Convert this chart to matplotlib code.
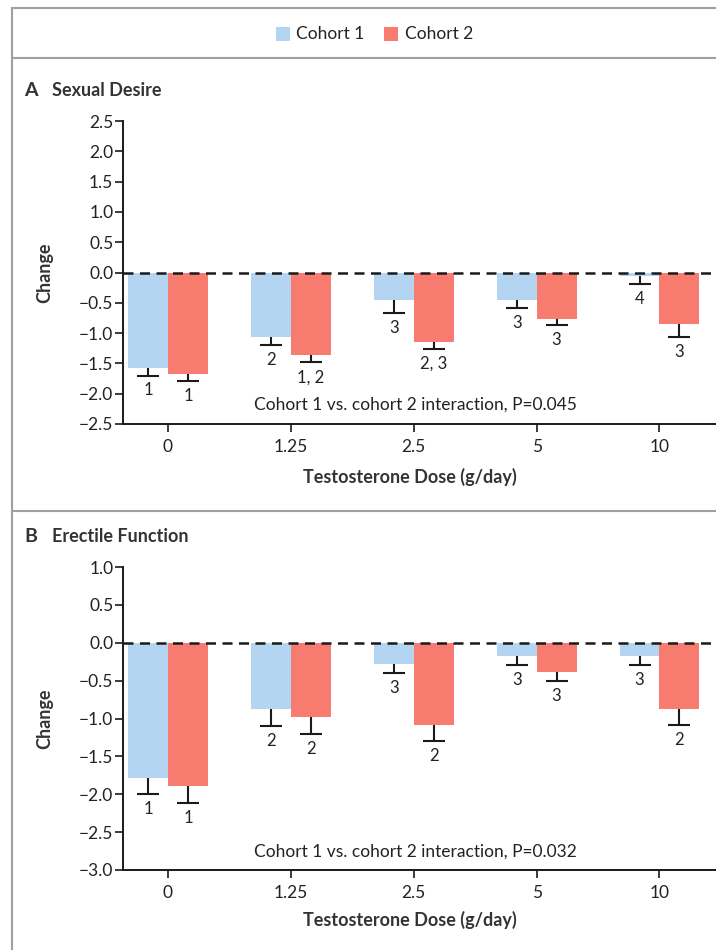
import matplotlib
matplotlib.use("Agg")
import matplotlib.pyplot as plt
from matplotlib.patches import Rectangle
from matplotlib.lines import Line2D
import numpy as np

plt.rcParams['font.family'] = ['Lato', 'DejaVu Sans']

# ---------------- data ----------------
doses = ["0", "1.25", "2.5", "5", "10"]
cohorts = ["Cohort 1", "Cohort 2"]

# Panel A: Sexual Desire
desire_c1 = [-1.57, -1.07, -0.45, -0.46, -0.06]
desire_c1_err = [0.13, 0.12, 0.22, 0.12, 0.13]
desire_c2 = [-1.67, -1.36, -1.15, -0.76, -0.85]
desire_c2_err = [0.12, 0.12, 0.11, 0.11, 0.22]
desire_c1_lbl = ["1", "2", "3", "3", "4"]
desire_c2_lbl = ["1", "1, 2", "2, 3", "3", "3"]
desire_p = "Cohort 1 vs. cohort 2 interaction, P=0.045"

# Panel B: Erectile Function
erectile_c1 = [-1.79, -0.88, -0.28, -0.18, -0.18]
erectile_c1_err = [0.21, 0.22, 0.12, 0.11, 0.11]
erectile_c2 = [-1.89, -0.98, -1.08, -0.39, -0.88]
erectile_c2_err = [0.22, 0.22, 0.22, 0.11, 0.21]
erectile_c1_lbl = ["1", "2", "3", "3", "3"]
erectile_c2_lbl = ["1", "2", "2", "3", "2"]
erectile_p = "Cohort 1 vs. cohort 2 interaction, P=0.032"

xlabel = "Testosterone Dose (g/day)"
ylabel = "Change"

C1 = "#B3D5F1"
C2 = "#F87B70"
FRAME = "#a0a0a0"
INK = "#1a1a1a"

W, H = 716, 950
fig = plt.figure(figsize=(W / 100, H / 100), dpi=100)


def fx(px):
    return px / W


def fy(py):
    return 1 - py / H


# outer frame and separators
fig.add_artist(Rectangle((fx(12), fy(965)), fx(740), fy(8) - fy(965),
                         transform=fig.transFigure, fill=False,
                         edgecolor=FRAME, lw=1.5))
for yy in (58, 511):
    fig.add_artist(Line2D([fx(12), 1.05], [fy(yy), fy(yy)],
                          transform=fig.transFigure, color=FRAME, lw=1.5))

# legend
fig.add_artist(Rectangle((fx(276), fy(41)), fx(14), fy(27) - fy(41),
                         transform=fig.transFigure, color=C1, lw=0))
fig.text(fx(296), fy(34), cohorts[0], fontsize=12.5, va='center', ha='left',
         color='#222222')
fig.add_artist(Rectangle((fx(384), fy(41)), fx(14), fy(27) - fy(41),
                         transform=fig.transFigure, color=C2, lw=0))
fig.text(fx(405), fy(34), cohorts[1], fontsize=12.5, va='center', ha='left',
         color='#222222')

BW = 0.325


def panel(top_px, bot_px, letter, title, ymin, ymax, c1, e1, c2, e2, l1, l2,
          ptext, title_y, xlabel_y, ptext_y):
    ax = fig.add_axes([fx(123), fy(bot_px), 1 - fx(123), fy(top_px) - fy(bot_px)])
    x = np.arange(len(doses))
    ax.bar(x - BW / 2, c1, width=BW, color=C1, lw=0, zorder=2)
    ax.bar(x + BW / 2, c2, width=BW, color=C2, lw=0, zorder=2)
    for xs, vals, errs, lbls in ((x - BW / 2, c1, e1, l1), (x + BW / 2, c2, e2, l2)):
        for xi, v, e, lb in zip(xs, vals, errs, lbls):
            ax.plot([xi, xi], [v, v - e], color=INK, lw=1.5, zorder=3,
                    solid_capstyle='butt')
            ax.plot([xi], [v - e], marker='_', ms=16, mew=1.5, color=INK,
                    zorder=3)
            ax.annotate(lb, (xi, v - e), xytext=(0, -5), textcoords='offset points',
                        ha='center', va='top', fontsize=12, color='#222222')
    ax.axhline(0, color=INK, lw=1.8, ls=(0, (4, 2.6)), zorder=4)
    ax.set_xlim(-0.366, 4.46)
    ax.set_ylim(ymin, ymax)
    ticks = np.arange(ymin, ymax + 0.01, 0.5)
    ax.set_yticks(ticks)
    ax.set_yticklabels([f"{v:.1f}".replace('-', '\u2212') for v in ticks])
    ax.set_xticks(x)
    ax.set_xticklabels(doses)
    for s in ('top', 'right'):
        ax.spines[s].set_visible(False)
    for s in ('left', 'bottom'):
        ax.spines[s].set_linewidth(1.4)
        ax.spines[s].set_color(INK)
    ax.tick_params(axis='both', length=6, width=1.2, colors=INK,
                   labelsize=12.5, labelcolor='#222222')
    ax.tick_params(axis='y', pad=1)
    ax.tick_params(axis='x', pad=5)
    ax.set_facecolor('none')
    fig.text(fx(415), fy(ptext_y), ptext, fontsize=12.5,
             ha='center', va='center', color='#222222')
    fig.text(fx(45), (fy(top_px) + fy(bot_px)) / 2, ylabel, rotation=90,
             fontsize=13, fontweight='bold', ha='center', va='center',
             color='#333333')
    fig.text(fx(410), fy(xlabel_y), xlabel, fontsize=13, fontweight='bold',
             ha='center', va='center', color='#333333')
    fig.text(fx(24), fy(title_y), letter, fontsize=14, fontweight='bold',
             ha='left', va='center', color='#333333')
    fig.text(fx(52), fy(title_y), title, fontsize=13, fontweight='bold',
             ha='left', va='center', color='#333333')
    return ax


panel(121, 424, "A", "Sexual Desire", -2.5, 2.5,
      desire_c1, desire_c1_err, desire_c2, desire_c2_err,
      desire_c1_lbl, desire_c2_lbl, desire_p, 91, 477, 405)
panel(567, 870, "B", "Erectile Function", -3.0, 1.0,
      erectile_c1, erectile_c1_err, erectile_c2, erectile_c2_err,
      erectile_c1_lbl, erectile_c2_lbl, erectile_p, 537, 920, 852)

fig.savefig("out.png", dpi=100)
